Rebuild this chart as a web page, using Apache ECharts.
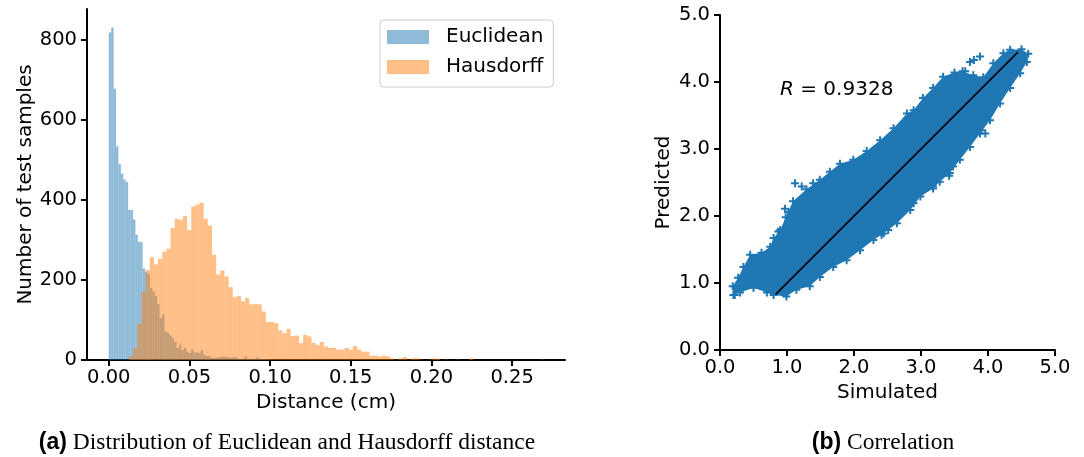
<!DOCTYPE html>
<html>
<head>
<meta charset="utf-8">
<script src="https://cdn.jsdelivr.net/npm/echarts@6/dist/echarts.min.js"></script>
<style>
  html, body { margin: 0; background: #fff; }
  #chart { width: 1084px; height: 457px; }
</style>
</head>
<body>
<div id="chart"></div>
<script>
// histogram (a): bin start, bin width, counts per bin
const euclideanStart = 0;
const euclideanWidth = 0.0015;
const euclideanCounts = [819, 831, 678, 534, 490, 466, 451, 445, 375, 375, 351, 313, 296, 295, 229, 220, 215, 180,
  172, 160, 140, 105, 114, 72, 68, 62, 55, 46, 30, 38, 25, 30, 21, 17, 27, 19, 19, 18, 25, 13, 10, 10, 6, 5, 6, 6,
  9, 8, 8, 6, 6, 7, 7, 4, 3, 3, 9, 3, 3, 3, 3, 7, 3, 2, 2, 1, 1];

const hausdorffStart = 0.0126;
const hausdorffWidth = 0.002569;
const hausdorffCounts = [10, 30, 90, 170, 225, 257, 239, 253, 271, 278, 330, 353, 350, 360, 325, 384, 389, 393, 353,
  336, 263, 214, 224, 209, 182, 157, 160, 147, 155, 139, 140, 139, 121, 95, 95, 92, 74, 67, 78, 60, 61, 42, 63, 59,
  43, 38, 45, 34, 30, 30, 26, 26, 30, 26, 35, 26, 21, 21, 11, 11, 9, 11, 9, 4, 1, 4, 7, 1, 4, 4, 1, 0, 1, 4, 3, 0,
  1, 0, 0, 1, 0, 0, 4, 0, 0, 0, 0, 0, 0, 0, 0, 0, 0, 0, 0, 0, 0, 0, 0, 1];

const distTicks = [0, 0.05, 0.10, 0.15, 0.20, 0.25];
const countTicks = [0, 200, 400, 600, 800];

// scatter (b): outline of the dense cloud, loose points, fit line
const cloudOutline = [
  [0.20, 0.82], [0.19, 0.95], [0.27, 1.08], [0.35, 1.24], [0.45, 1.42], [0.62, 1.45], [0.75, 1.54], [0.80, 1.67],
  [0.90, 1.79], [0.98, 1.98], [1.09, 2.22], [1.29, 2.40], [1.49, 2.54], [1.64, 2.66], [1.79, 2.78], [1.99, 2.84],
  [2.19, 2.97], [2.39, 3.13], [2.59, 3.31], [2.79, 3.53], [2.89, 3.58], [3.03, 3.76], [3.18, 3.91], [3.33, 4.08],
  [3.50, 4.14], [3.62, 4.16], [3.78, 4.10], [3.93, 4.07], [4.08, 4.28], [4.23, 4.43], [4.33, 4.48], [4.50, 4.49],
  [4.60, 4.42], [4.58, 4.30], [4.48, 4.13], [4.33, 3.91], [4.18, 3.68], [4.03, 3.43], [3.88, 3.23], [3.73, 3.03],
  [3.58, 2.84], [3.43, 2.64], [3.28, 2.51], [3.18, 2.41], [2.99, 2.29], [2.84, 2.09], [2.64, 1.89], [2.44, 1.74],
  [2.29, 1.64], [2.09, 1.49], [1.89, 1.34], [1.69, 1.24], [1.49, 1.09], [1.34, 0.95], [1.14, 0.90], [0.99, 0.80],
  [0.80, 0.82], [0.70, 0.86], [0.50, 0.93], [0.30, 0.86]
];
const loosePoints = [
  [3.88, 4.38], [3.73, 4.30], [3.79, 4.33], [3.66, 4.16], [3.96, 3.23], [3.90, 3.28], [3.48, 2.74], [3.42, 2.60],
  [3.18, 2.44], [2.89, 2.19], [2.51, 1.79], [2.41, 1.72], [1.12, 2.49], [1.22, 2.44], [1.39, 2.49], [0.97, 2.11],
  [1.02, 2.06], [0.87, 1.77], [0.22, 0.82]
];
const fitLine = [[0.83, 0.83], [4.45, 4.45]];

const FONT = 'DejaVu Sans';
const blue = '#1f77b4';
const orange = '#ff7f0e';
const plus = 'path://M3,0H5V3H8V5H5V8H3V5H0V3H3Z';

const toBins = (start, width, counts) => counts.map((c, i) => [start + i * width, start + (i + 1) * width, c]);

const histBar = color => (params, api) => {
  const a = api.coord([api.value(0), 0]);
  const b = api.coord([api.value(1), api.value(2)]);
  return {
    type: 'rect',
    shape: { x: a[0], y: b[1], width: b[0] - a[0], height: a[1] - b[1] },
    style: { fill: color, opacity: 0.5 }
  };
};

const axisCommon = {
  axisLine: { show: true, onZero: false, lineStyle: { color: '#000', width: 2 } },
  axisTick: { show: true, length: 6, lineStyle: { color: '#000', width: 2 } },
  splitLine: { show: false },
  nameLocation: 'middle',
  nameTextStyle: { color: '#000', fontSize: 20, fontFamily: FONT }
};
const labelCommon = { color: '#000', fontSize: 19.5, fontFamily: FONT };

const chart = echarts.init(document.getElementById('chart'));
chart.setOption({
  animation: false,
  grid: [
    { left: 87, top: 9, width: 478, height: 351 },
    { left: 720, top: 15, width: 335, height: 335 }
  ],
  legend: {
    orient: 'vertical',
    left: 380, top: 20,
    padding: [6, 10, 9, 7],
    itemWidth: 42, itemHeight: 14, itemGap: 8,
    backgroundColor: '#fff',
    borderColor: '#cccccc', borderWidth: 1, borderRadius: 4,
    icon: 'rect',
    textStyle: { color: '#000', fontSize: 20, fontFamily: FONT, lineHeight: 22, padding: [0, 0, 0, 12] },
    data: [
      { name: 'Euclidean', itemStyle: { color: '#8fbbd9', opacity: 1 } },
      { name: 'Hausdorff', itemStyle: { color: '#ffbf86', opacity: 1 } }
    ]
  },
  xAxis: [
    Object.assign({}, axisCommon, {
      type: 'value', gridIndex: 0, min: -0.0135, max: 0.2828,
      axisTick: Object.assign({}, axisCommon.axisTick, { customValues: distTicks }),
      axisLabel: Object.assign({}, labelCommon, { customValues: distTicks, margin: 8, formatter: v => v.toFixed(2) }),
      name: 'Distance (cm)', nameGap: 32
    }),
    Object.assign({}, axisCommon, {
      type: 'value', gridIndex: 1, min: 0, max: 5, interval: 1,
      axisLabel: Object.assign({}, labelCommon, { margin: 8, formatter: v => v.toFixed(1) }),
      name: 'Simulated', nameGap: 31
    })
  ],
  yAxis: [
    Object.assign({}, axisCommon, {
      type: 'value', gridIndex: 0, min: 0, max: 877.5,
      axisTick: Object.assign({}, axisCommon.axisTick, { customValues: countTicks }),
      axisLabel: Object.assign({}, labelCommon, { customValues: countTicks, margin: 10 }),
      name: 'Number of test samples', nameGap: 50
    }),
    Object.assign({}, axisCommon, {
      type: 'value', gridIndex: 1, min: 0, max: 5, interval: 1,
      axisLabel: Object.assign({}, labelCommon, { margin: 10, formatter: v => v.toFixed(1) }),
      name: 'Predicted', nameGap: 46
    })
  ],
  series: [
    {
      name: 'Euclidean', type: 'custom', xAxisIndex: 0, yAxisIndex: 0,
      itemStyle: { color: '#8fbbd9' },
      renderItem: histBar(blue),
      encode: { x: [0, 1], y: 2 },
      data: toBins(euclideanStart, euclideanWidth, euclideanCounts)
    },
    {
      name: 'Hausdorff', type: 'custom', xAxisIndex: 0, yAxisIndex: 0,
      itemStyle: { color: '#ffbf86' },
      renderItem: histBar(orange),
      encode: { x: [0, 1], y: 2 },
      data: toBins(hausdorffStart, hausdorffWidth, hausdorffCounts)
    },
    {
      type: 'custom', xAxisIndex: 1, yAxisIndex: 1, silent: true,
      renderItem: (params, api) => ({
        type: 'polygon',
        shape: { points: cloudOutline.map(p => api.coord(p)) },
        style: { fill: blue }
      }),
      data: [[2, 2]]
    },
    {
      type: 'scatter', xAxisIndex: 1, yAxisIndex: 1, silent: true,
      symbol: plus, symbolSize: 8,
      itemStyle: { color: blue, opacity: 1 },
      data: cloudOutline.concat(loosePoints)
    },
    {
      type: 'line', xAxisIndex: 1, yAxisIndex: 1, silent: true,
      symbol: 'none',
      lineStyle: { color: '#000', width: 1.6 },
      data: fitLine
    }
  ],
  graphic: [
    {
      type: 'text', left: 780, top: 80,
      style: {
        text: '{i|R} = 0.9328',
        fill: '#000', font: '20px "DejaVu Sans"',
        rich: { i: { fontStyle: 'italic', fontSize: 20, fontFamily: FONT } }
      }
    },
    {
      type: 'text', x: 287, y: 443,
      style: {
        text: '{b|(a)}{t| Distribution of Euclidean and Hausdorff distance}',
        align: 'center', verticalAlign: 'middle', fill: '#000',
        rich: {
          b: { fontFamily: 'Liberation Sans', fontWeight: 'bold', fontSize: 23 },
          t: { fontFamily: 'Liberation Serif', fontSize: 23.5 }
        }
      }
    },
    {
      type: 'text', x: 883, y: 443,
      style: {
        text: '{b|(b)}{t| Correlation}',
        align: 'center', verticalAlign: 'middle', fill: '#000',
        rich: {
          b: { fontFamily: 'Liberation Sans', fontWeight: 'bold', fontSize: 23 },
          t: { fontFamily: 'Liberation Serif', fontSize: 23.5 }
        }
      }
    }
  ]
});
</script>
</body>
</html>
